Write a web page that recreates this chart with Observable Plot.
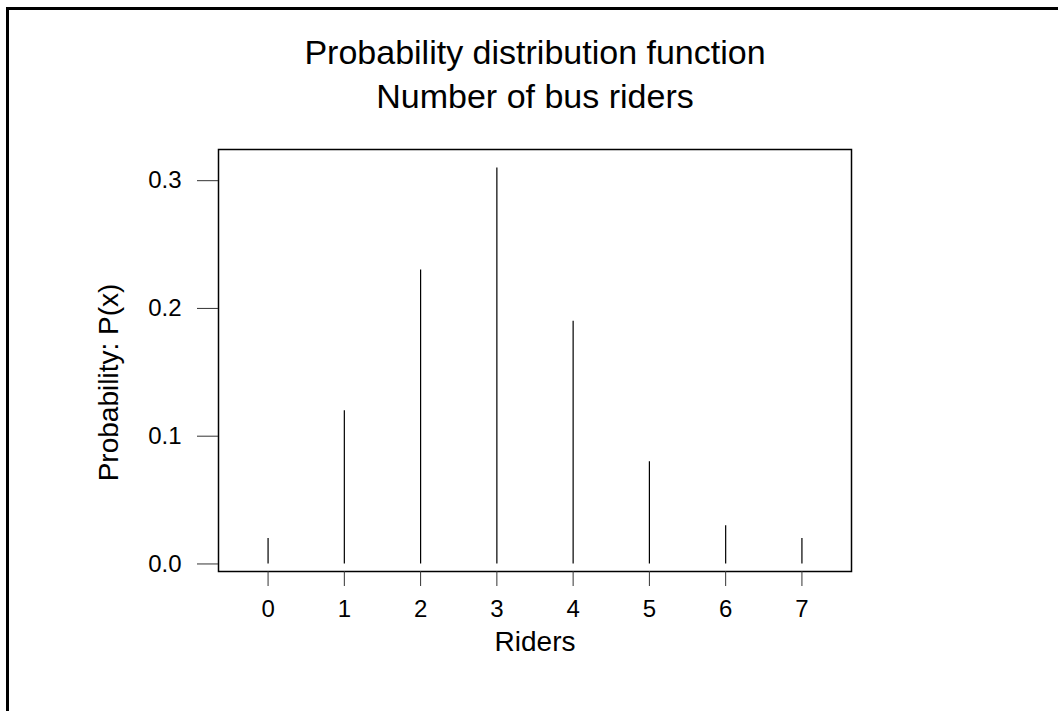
<!DOCTYPE html>
<html>
<head>
<meta charset="utf-8">
<script src="https://cdn.jsdelivr.net/npm/d3@7"></script>
<script src="https://cdn.jsdelivr.net/npm/@observablehq/plot@0.6"></script>
<style>
  html, body { margin: 0; padding: 0; background: #fff; overflow: hidden; width: 1058px; height: 711px; }
  #border { position: absolute; left: 6px; top: 7px; width: 3000px; height: 3000px; border-left: 3px solid #000; border-top: 3px solid #000; }
  #chart { position: absolute; left: 0; top: 0; }
</style>
</head>
<body>
<div id="border"></div>
<div id="chart"></div>
<script>
const riders = [0, 1, 2, 3, 4, 5, 6, 7];
const probs = [0.02, 0.12, 0.23, 0.31, 0.19, 0.08, 0.03, 0.02];
const yTicks = [0, 0.1, 0.2, 0.3];
const titleText = "Probability distribution function";
const subtitleText = "Number of bus riders";
const xLabel = "Riders";
const yLabel = "Probability: P(x)";

const data = riders.map((r, i) => ({ r, p: probs[i] }));
const font = "'Liberation Sans', Arial, Helvetica, sans-serif";

const chart = Plot.plot({
  width: 1058,
  height: 711,
  marginLeft: 218,
  marginTop: 149,
  marginRight: 207,
  marginBottom: 140,
  style: { fontFamily: font, background: "transparent", color: "#000" },
  x: { domain: [-0.65, 7.65] },
  y: { domain: [-0.0059, 0.3244] },
  marks: [
    Plot.frame({ stroke: "#000", strokeWidth: 1.5 }),
    Plot.ruleX(data, { x: "r", y1: 0, y2: "p", stroke: "#000", strokeWidth: 1.2 }),
    Plot.axisX({ ticks: riders, tickSize: 15, tickPadding: 13, fontSize: 24, stroke: "#333", label: null, tickFormat: d => String(d) }),
    Plot.axisY({ ticks: yTicks, tickSize: 21, tickPadding: 16, fontSize: 24, stroke: "#333", label: null, tickFormat: d3.format(".1f") }),
    Plot.text([titleText], { text: d => d, frameAnchor: "top", textAnchor: "middle", dy: -86, lineAnchor: "bottom", fontSize: 34 }),
    Plot.text([subtitleText], { text: d => d, frameAnchor: "top", textAnchor: "middle", dy: -42, lineAnchor: "bottom", fontSize: 34 }),
    Plot.text([xLabel], { text: d => d, frameAnchor: "bottom", textAnchor: "middle", dy: 79, lineAnchor: "bottom", fontSize: 28 }),
    Plot.text([yLabel], { text: d => d, frameAnchor: "left", textAnchor: "middle", dx: -101, dy: 22, rotate: -90, lineAnchor: "bottom", fontSize: 28 })
  ]
});
document.getElementById("chart").appendChild(chart);
</script>
</body>
</html>
